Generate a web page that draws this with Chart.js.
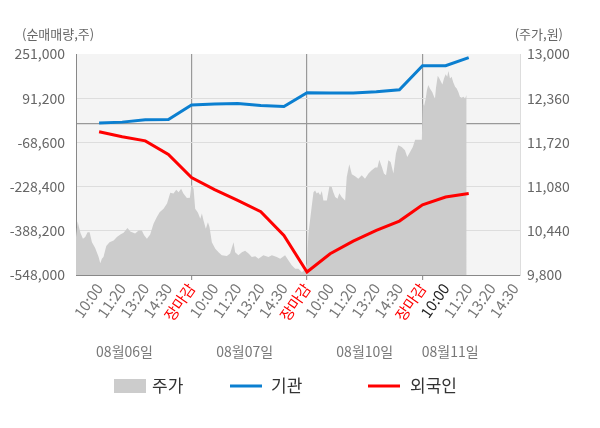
<!DOCTYPE html>
<html>
<head>
<meta charset="utf-8">
<script src="https://cdn.jsdelivr.net/npm/chart.js@4"></script>
<style>
  html, body { margin: 0; padding: 0; background: #fff; }
  #wrap { width: 600px; height: 428px; }
</style>
</head>
<body>
<div id="wrap"><canvas id="flowChart" width="600" height="428"></canvas></div>
<script>
// x ticks: each day is 5 slots, 장마감 sits on the day boundary
const tickValues = [1,2,3,4,5, 6,7,8,9,10, 11,12,13,14,15, 16,17,18,19];
const tickLabels = ['10:00','11:20','13:20','14:30','장마감',
                    '10:00','11:20','13:20','14:30','장마감',
                    '10:00','11:20','13:20','14:30','장마감',
                    '10:00','11:20','13:20','14:30'];
const dayLabels = ['08월06일','08월07일','08월10일','08월11일'];

const leftTicks = [-548000, -388200, -228400, -68600, 91200, 251000];
const rightTicks = [9800, 10440, 11080, 11720, 12360, 13000];

// net buying (주), one value per tick slot
const flowX = [1,2,3,4,5, 6,7,8,9,10, 11,12,13,14,15, 16,17];
const institution = [1200, 4700, 13000, 14500, 66300,
                     70000, 71700, 64500, 61000, 110900,
                     109800, 110000, 114500, 121800, 208700,
                     208700, 237700];
const foreigner = [-30400, -48500, -63000, -112300, -196000,
                   -239000, -278000, -319000, -405000, -537000,
                   -471000, -425500, -386700, -353000, -294000,
                   -266000, -253700];

// intraday price (원)
const priceX = [
  0.00,0.07,0.11,0.19,0.30,0.40,0.50,0.59,0.69,0.83,0.98,1.05,1.12,1.19,1.31,1.45,1.63,1.77,1.92,2.06,
  2.23,2.35,2.56,2.71,2.85,2.95,3.07,3.21,3.36,3.50,3.62,3.79,3.94,4.08,4.22,4.34,4.44,4.55,4.65,4.80,4.93,
  5.00,5.09,5.16,5.28,5.38,5.45,5.52,5.62,5.71,5.78,5.88,6.03,6.17,6.31,6.53,6.67,6.82,6.89,7.03,7.18,
  7.32,7.47,7.61,7.76,7.90,8.11,8.33,8.48,8.69,8.84,9.05,9.20,9.34,9.49,9.63,9.78,9.92,
  10.00,10.06,10.13,10.21,10.28,10.35,10.42,10.49,10.57,10.64,10.71,10.86,10.97,11.07,11.14,11.22,11.32,11.40,
  11.50,11.65,11.72,11.83,11.94,12.08,12.22,12.37,12.51,12.66,12.80,12.95,13.05,13.13,13.24,13.33,13.42,13.52,
  13.62,13.74,13.85,13.95,14.10,14.24,14.34,14.46,14.58,14.68,14.82,14.97,
  15.01,15.07,15.14,15.19,15.25,15.32,15.42,15.50,15.54,15.58,15.66,15.73,15.80,15.86,15.93,16.00,16.07,16.12,
  16.19,16.26,16.33,16.41,16.48,16.55,16.62,16.69,16.77,16.84,16.91
];
const price = [
  10350,10580,10520,10410,10325,10350,10420,10420,10275,10190,10060,9970,10035,10060,10220,10275,10300,10350,10385,10410,
  10480,10430,10400,10445,10445,10375,10325,10385,10545,10640,10710,10760,10835,10990,10980,11035,11000,11050,10980,10915,10920,
  11110,11050,10760,10700,10615,10690,10590,10470,10565,10495,10275,10180,10130,10085,10075,10110,10275,10130,10085,10130,
  10150,10110,10060,10070,10035,10085,10060,10085,10060,10035,10085,10010,9940,9890,9890,9840,9890,
  9965,10400,10590,10810,11000,11025,10980,11000,10955,11015,10880,10880,11085,11075,11000,10930,10905,10985,
  10930,10880,11220,11405,11260,11230,11195,11245,11195,11270,11315,11355,11355,11470,11365,11270,11245,11460,
  11435,11270,11560,11680,11655,11605,11510,11580,11655,11760,11760,11760,
  12285,12250,12355,12475,12550,12500,12450,12380,12355,12500,12685,12645,12600,12560,12645,12705,12670,12755,
  12645,12670,12590,12525,12500,12450,12380,12365,12380,12355,12405
];

const FONT = "'Noto Sans CJK KR', 'Noto Sans', sans-serif";
Chart.defaults.font.family = FONT;

const fmt = v => v.toLocaleString('en-US');

const decor = {
  id: 'decor',
  beforeDraw(chart) {
    const {ctx, chartArea: a} = chart;
    ctx.save();
    ctx.fillStyle = '#f4f4f4';
    ctx.fillRect(a.left, a.top, a.right - a.left, a.bottom - a.top);
    ctx.restore();
  },
  afterDraw(chart) {
    const ctx = chart.ctx;
    const xs = chart.scales.x;
    ctx.save();
    // axis titles
    ctx.fillStyle = '#666';
    ctx.font = '13px ' + FONT;
    ctx.textBaseline = 'middle';
    ctx.textAlign = 'left';
    ctx.fillText('(순매매량,주)', 22, 34);
    ctx.textAlign = 'right';
    ctx.fillText('(주가,원)', 563, 34);

    // day labels under the time ticks
    const dayPos = [2.1, 7.3, 12.5, 16.2];
    ctx.font = '14px ' + FONT;
    ctx.fillStyle = '#777';
    ctx.textAlign = 'center';
    dayLabels.forEach((d, i) => ctx.fillText(d, xs.getPixelForValue(dayPos[i]), 352));

    // legend
    ctx.font = '17px ' + FONT;
    ctx.fillStyle = '#cccccc';
    ctx.fillRect(114, 379, 32, 14);
    ctx.lineWidth = 3;
    ctx.strokeStyle = '#0b7fd0';
    ctx.beginPath(); ctx.moveTo(230, 386); ctx.lineTo(262, 386); ctx.stroke();
    ctx.strokeStyle = '#ff0000';
    ctx.beginPath(); ctx.moveTo(368, 386); ctx.lineTo(400, 386); ctx.stroke();
    ctx.fillStyle = '#333';
    ctx.textAlign = 'left';
    ctx.fillText('주가', 152, 386);
    ctx.fillText('기관', 271, 386);
    ctx.fillText('외국인', 410, 386);
    ctx.restore();
  }
};

const ctx = document.getElementById('flowChart').getContext('2d');
const chart = new Chart(ctx, {
  type: 'line',
  data: {
    datasets: [{
      label: '기관',
      data: flowX.map((x, i) => ({x, y: institution[i]})),
      borderColor: '#0b7fd0',
      borderWidth: 3,
      pointRadius: 0,
      tension: 0,
      yAxisID: 'y',
      order: 0
    }, {
      label: '외국인',
      data: flowX.map((x, i) => ({x, y: foreigner[i]})),
      borderColor: '#ff0000',
      borderWidth: 3,
      pointRadius: 0,
      tension: 0,
      yAxisID: 'y',
      order: 0
    }, {
      label: '주가',
      data: priceX.map((x, i) => ({x, y: price[i]})),
      borderWidth: 0,
      borderColor: '#cccccc',
      backgroundColor: '#cccccc',
      fill: 'start',
      pointRadius: 0,
      tension: 0,
      yAxisID: 'y1',
      order: 2
    }]
  },
  options: {
    responsive: false,
    animation: false,
    layout: { padding: { top: 54, bottom: 93, left: 0, right: 0 } },
    plugins: {
      legend: { display: false },
      tooltip: { enabled: false }
    },
    scales: {
      x: {
        type: 'linear',
        min: 0,
        max: 19.22,
        afterBuildTicks: s => { s.ticks = tickValues.map(v => ({value: v})); },
        afterFit: s => { s.height = 60; },
        border: { color: '#888', width: 1 },
        grid: {
          color: c => (c.tick && c.tick.value % 5 === 0) ? '#999' : 'rgba(0,0,0,0)',
          tickColor: c => (c.tick && c.tick.value % 5 === 0) ? '#999' : 'rgba(0,0,0,0)',
          tickLength: 5,
          lineWidth: 1.2
        },
        ticks: {
          autoSkip: false,
          minRotation: 55,
          maxRotation: 55,
          padding: 0,
          font: { size: 15 },
          color: c => {
            const lab = tickLabels[c.index];
            if (lab === '장마감') return '#ff0000';
            if (c.index === 15) return '#222';
            return '#777';
          },
          callback: (v, i) => tickLabels[i]
        }
      },
      y: {
        position: 'left',
        min: -548000,
        max: 251000,
        afterBuildTicks: s => { s.ticks = leftTicks.concat([0]).sort((a, b) => a - b).map(v => ({value: v})); },
        afterFit: s => { s.width = 76; },
        border: { color: '#888', width: 1 },
        grid: {
          drawTicks: false,
          color: c => {
            if (!c.tick) return 'rgba(0,0,0,0)';
            if (c.tick.value === 0) return '#999';
            if (c.tick.value === 251000) return 'rgba(0,0,0,0)';
            return '#dddddd';
          },
          lineWidth: c => (c.tick && c.tick.value === 0) ? 1.3 : 1
        },
        ticks: {
          padding: 11,
          font: { size: 14 },
          color: '#666',
          callback: v => v === 0 ? '' : fmt(v)
        }
      },
      y1: {
        position: 'right',
        min: 9800,
        max: 13000,
        afterBuildTicks: s => { s.ticks = rightTicks.map(v => ({value: v})); },
        afterFit: s => { s.width = 80; },
        border: { color: '#dddddd', width: 1 },
        grid: { display: false, drawTicks: false },
        ticks: {
          padding: 7,
          font: { size: 14 },
          color: '#666',
          callback: v => fmt(v)
        }
      }
    }
  },
  plugins: [decor]
});
</script>
</body>
</html>
